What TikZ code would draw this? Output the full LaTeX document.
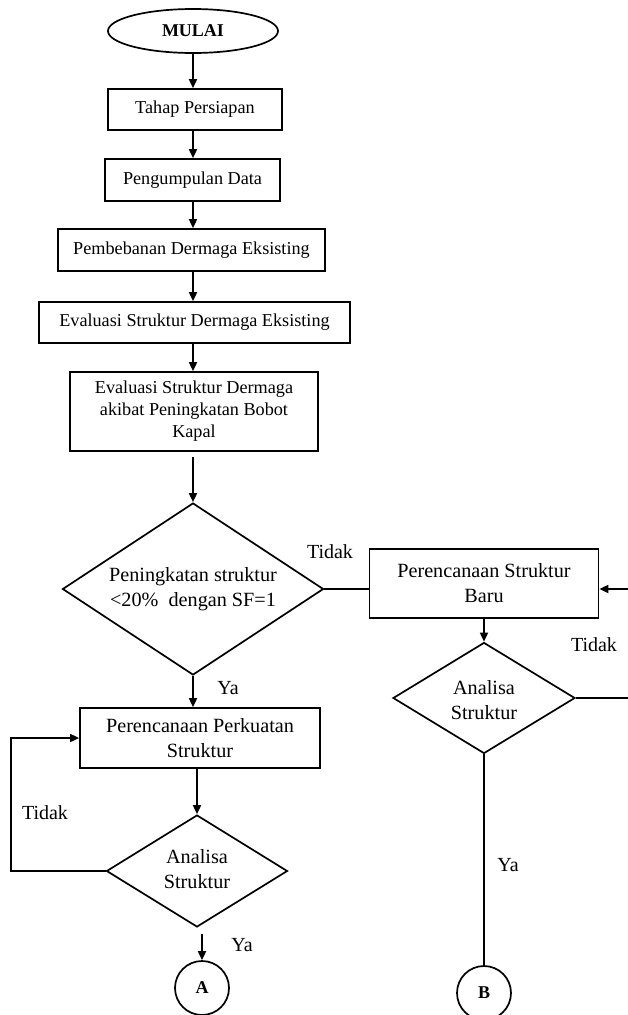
\documentclass[tikz,border=0pt]{standalone}
\usepackage{fontspec}
\setmainfont{Liberation Serif}
\usetikzlibrary{shapes.geometric,arrows.meta}
\begin{document}
\begin{tikzpicture}[x=1pt,y=-1pt,
  every node/.style={font=\fontsize{18.2}{22}\selectfont, inner sep=0pt, align=center},
  bigf/.style={font=\fontsize{20.2}{25}\selectfont},
  box/.style={draw, line width=1.7pt, rectangle},
  dec/.style={draw, line width=1.7pt, diamond},
  term/.style={draw, line width=1.7pt, ellipse},
  conn/.style={draw, line width=1.7pt, circle, minimum size=54pt, font=\fontsize{18}{22}\selectfont\bfseries},
  ln/.style={line width=1.7pt},
  arr/.style={line width=1.7pt, -{Triangle[length=9pt,width=8pt]}},
  lbl/.style={font=\fontsize{20}{24}\selectfont}]
\useasboundingbox (0,0) rectangle (628,1015);
\node[term, minimum width=170pt, minimum height=44pt, font=\fontsize{18}{22}\selectfont\bfseries] (mulai) at (193,31) {MULAI};
\node[box, minimum width=174pt, minimum height=41pt] (tahap) at (195,109.5) {Tahap Persiapan};
\node[box, minimum width=175pt, minimum height=42pt] (data) at (192.5,180) {Pengumpulan Data};
\node[box, minimum width=267pt, minimum height=42pt] (beban) at (191.5,250) {Pembebanan Dermaga Eksisting};
\node[box, minimum width=311pt, minimum height=41pt] (evex) at (194.5,322.5) {Evaluasi Struktur Dermaga Eksisting};
\node[box, minimum width=248pt, minimum height=79pt] (evbb) at (194,411.5) {Evaluasi Struktur Dermaga\\akibat Peningkatan Bobot\\Kapal};
\node[dec, minimum width=261pt, minimum height=172pt] (d1) at (193,589) {};
\node[bigf] (d1t) at (d1.center) {Peningkatan struktur\\{<}20\%\ \ dengan SF=1};
\node[box, bigf, minimum width=240pt, minimum height=60pt] (perk) at (200,738) {Perencanaan Perkuatan\\Struktur};
\node[dec, minimum width=181pt, minimum height=112pt] (d2) at (197,871) {};
\node[bigf] (d2t) at ([yshift=2pt]d2.center) {Analisa\\Struktur};
\node[conn] (A) at (202,988) {A};
\node[box, bigf, minimum width=229pt, minimum height=69pt] (baru) at (484,583.5) {Perencanaan Struktur\\Baru};
\node[dec, minimum width=182pt, minimum height=111pt] (d3) at (484,698) {};
\node[bigf] (d3t) at ([yshift=-2pt]d3.center) {Analisa\\Struktur};
\node[conn] (B) at (484,993) {B};
\coordinate (r1) at (628,589);
\coordinate (r2) at (628,698);
% labels
\node[lbl] (t1) at (330,552) {Tidak};
\node[lbl] (y1) at (228,688) {Ya};
\node[lbl] (t2) at (45,813) {Tidak};
\node[lbl] (y2) at (242,945) {Ya};
\node[lbl] (t3) at (594,645) {Tidak};
\node[lbl] (y3) at (508,865) {Ya};
% connectors
\draw[arr] (mulai.south) -- (mulai.south |- tahap.north);
\draw[arr] (mulai.south |- tahap.south) -- (mulai.south |- data.north);
\draw[arr] (mulai.south |- data.south) -- (mulai.south |- beban.north);
\draw[arr] (mulai.south |- beban.south) -- (mulai.south |- evex.north);
\draw[arr] (mulai.south |- evex.south) -- (mulai.south |- evbb.north);
\draw[arr, shorten <=5pt] (d1.north |- evbb.south) -- (d1.north);
\draw[arr] (d1.south) -- (d1.south |- perk.north);
\draw[arr] (d2.north |- perk.south) -- (d2.north);
\draw[arr, shorten <=6pt] (A.north |- d2.south) -- (A.north);
\draw[arr] (d2.west) -- ++(-95,0) |- (perk.west);
\draw[ln] (d1.east) -- (d1.east -| baru.west);
\draw[arr] (r1) -- (r1 -| baru.east);
\draw[arr] (baru.south) -- (d3.north);
\draw[ln] (d3.east) -- (r2);
\draw[ln] (d3.south) -- (B.north);
\end{tikzpicture}
\end{document}
